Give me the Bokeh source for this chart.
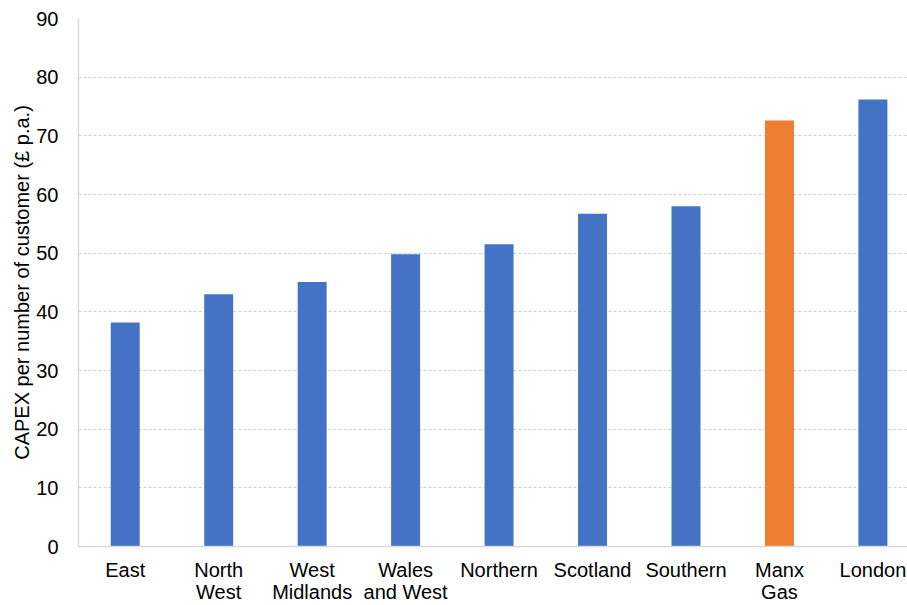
from bokeh.plotting import figure
from bokeh.models import Range1d, FixedTicker, ColumnDataSource
from bokeh.embed import file_html
from bokeh.resources import INLINE

# Gas distribution networks, capital expenditure per customer
networks = ["East", "North\nWest", "West\nMidlands", "Wales\nand West", "Northern",
            "Scotland", "Southern", "Manx\nGas", "London"]
capex_per_customer = [38.2, 43.0, 45.1, 49.8, 51.5, 56.7, 58.0, 72.6, 76.2]
bar_colors = ["#4472C4", "#4472C4", "#4472C4", "#4472C4", "#4472C4",
              "#4472C4", "#4472C4", "#ED7D31", "#4472C4"]
y_ticks = [0, 10, 20, 30, 40, 50, 60, 70, 80, 90]

FONT = "Liberation Sans"

positions = list(range(len(networks)))
source = ColumnDataSource(dict(x=positions, top=capex_per_customer, color=bar_colors))

p = figure(width=907, height=605, output_backend="svg", toolbar_location=None,
           x_range=Range1d(-0.5, len(networks) - 0.63), y_range=Range1d(0, 90),
           min_border_left=78, min_border_right=0, min_border_top=18, min_border_bottom=59)

p.vbar(x="x", top="top", width=0.31, bottom=0, color="color", line_color=None, source=source)

p.outline_line_color = None
p.background_fill_color = "white"
p.border_fill_color = "white"

# x axis: one label per network
p.xaxis.ticker = FixedTicker(ticks=positions)
p.xaxis.major_label_overrides = {i: name for i, name in enumerate(networks)}
p.xaxis.major_label_text_font = FONT
p.xaxis.major_label_text_font_size = "20px"
p.xaxis.major_label_text_line_height = 1.0
p.xaxis.major_label_text_color = "#000000"
p.xaxis.major_label_standoff = 12
p.xaxis.major_tick_out = 0
p.xaxis.major_tick_in = 0
p.xaxis.major_tick_line_color = None
p.xaxis.minor_tick_line_color = None
p.xaxis.axis_line_color = "#D9D9D9"
p.xaxis.axis_line_width = 1.5

# y axis
p.yaxis.ticker = FixedTicker(ticks=y_ticks)
p.yaxis.major_label_text_font = FONT
p.yaxis.major_label_text_font_size = "20px"
p.yaxis.major_label_text_color = "#000000"
p.yaxis.major_label_standoff = 20
p.yaxis.major_tick_out = 0
p.yaxis.major_tick_in = 0
p.yaxis.major_tick_line_color = None
p.yaxis.minor_tick_line_color = None
p.yaxis.axis_line_color = "#D9D9D9"
p.yaxis.axis_line_width = 1.5
p.yaxis.axis_label = "CAPEX per number of customer (£ p.a.)"
p.yaxis.axis_label_text_font = FONT
p.yaxis.axis_label_text_font_size = "20px"
p.yaxis.axis_label_text_font_style = "normal"
p.yaxis.axis_label_text_color = "#000000"
p.yaxis.axis_label_standoff = 0

p.xgrid.grid_line_color = None
p.ygrid.ticker = FixedTicker(ticks=y_ticks)
p.ygrid.grid_line_color = "#D0D0D0"
p.ygrid.grid_line_dash = "3 2"
p.ygrid.grid_line_width = 1

open("out.html", "w").write(file_html(p, INLINE))
